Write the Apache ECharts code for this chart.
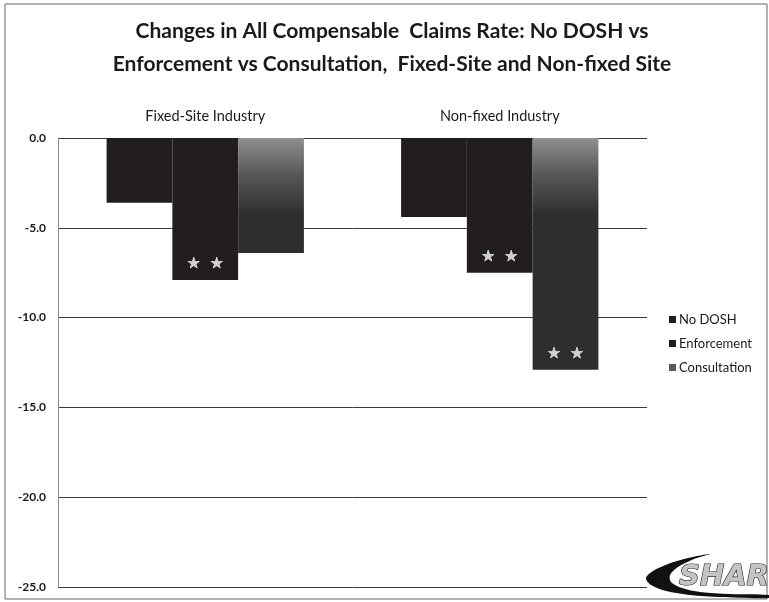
<!DOCTYPE html>
<html>
<head>
<meta charset="utf-8">
<script src="https://cdn.jsdelivr.net/npm/echarts@6/dist/echarts.min.js"></script>
<style>
  html, body { margin: 0; padding: 0; background: #fff; }
  #chart { width: 769px; height: 602px; }
</style>
</head>
<body>
<div id="chart"></div>
<script>
// Change in all compensable claims rate, by site type and intervention group
const categories = ['Fixed-Site Industry', 'Non-fixed Industry'];
const seriesNames = ['No DOSH', 'Enforcement', 'Consultation'];
const noDosh = [-3.6, -4.4];
const enforcement = [-7.9, -7.5];
const consultation = [-6.4, -12.9];
// which bars carry the significance stars
const enforcementStars = [true, true];
const consultationStars = [false, true];
const yTicks = [0, -5, -10, -15, -20, -25];

const FONT = 'Lato, "Open Sans", "Liberation Sans", sans-serif';
const DARK = '#221e1f';

function withStars(values, flags) {
  return values.map((v, i) => flags[i] ? {
    value: v,
    label: {
      show: true,
      position: 'insideBottom',
      distance: 8,
      formatter: '\u2605  \u2605',
      color: '#d0d0d0',
      fontSize: 15,
      fontFamily: '"DejaVu Sans", sans-serif',
      textBorderColor: '#f4f4f4',
      textBorderWidth: 0.6
    }
  } : v);
}

// swoosh of the logo in the lower right corner
const swooshPoints = [
  [710, 554], [688, 558], [668, 564], [653, 571], [646, 578], [651, 585],
  [666, 591], [690, 595], [720, 597], [769, 598],
  [769, 595], [730, 594], [700, 592], [682, 588], [671, 582], [670, 575],
  [678, 567], [694, 559]
];

const chart = echarts.init(document.getElementById('chart'), null, { renderer: 'canvas' });

chart.setOption({
  backgroundColor: '#ffffff',
  animation: false,
  title: {
    text: 'Changes in All Compensable  Claims Rate: No DOSH vs\nEnforcement vs Consultation,  Fixed-Site and Non-fixed Site',
    left: 387,
    textAlign: 'center',
    top: 10,
    textStyle: {
      fontFamily: FONT,
      fontWeight: 'bold',
      fontSize: 21,
      lineHeight: 33,
      color: '#1a1a1a'
    }
  },
  legend: {
    orient: 'vertical',
    left: 664,
    top: 308,
    itemWidth: 7,
    itemHeight: 7,
    itemGap: 11,
    icon: 'rect',
    textStyle: { fontFamily: FONT, fontSize: 13, color: '#1a1a1a', padding: [0, 0, 0, -2] },
    data: [
      { name: 'No DOSH', itemStyle: { color: DARK } },
      { name: 'Enforcement', itemStyle: { color: DARK } },
      { name: 'Consultation', itemStyle: { color: '#5a5a5a' } }
    ]
  },
  grid: { left: 58, right: 122, top: 138, bottom: 15 },
  xAxis: {
    type: 'category',
    position: 'top',
    data: categories,
    axisLine: { show: false },
    axisTick: { show: false },
    axisLabel: {
      margin: 14,
      fontFamily: FONT,
      fontSize: 14.5,
      color: '#1a1a1a'
    }
  },
  yAxis: {
    type: 'value',
    min: -25,
    max: 0,
    interval: 5,
    axisLine: { show: true, lineStyle: { color: '#888', width: 1 } },
    axisTick: { show: false },
    axisLabel: {
      margin: 12,
      fontFamily: FONT,
      fontWeight: 'bold',
      fontSize: 12,
      color: '#1a1a1a',
      formatter: v => yTicks.includes(v) ? v.toFixed(1) : ''
    },
    splitLine: { lineStyle: { color: '#3a3a3a', width: 1 } }
  },
  series: [
    {
      name: seriesNames[0],
      type: 'bar',
      data: noDosh,
      barGap: '0%',
      barCategoryGap: '33%',
      itemStyle: { color: DARK }
    },
    {
      name: seriesNames[1],
      type: 'bar',
      data: withStars(enforcement, enforcementStars),
      itemStyle: { color: DARK }
    },
    {
      name: seriesNames[2],
      type: 'bar',
      data: withStars(consultation, consultationStars),
      itemStyle: {
        color: {
          type: 'linear', global: true,
          x: 0, y: 138, x2: 0, y2: 215,
          colorStops: [
            { offset: 0, color: '#8f8f8f' },
            { offset: 0.45, color: '#5a5a5a' },
            { offset: 1, color: '#302d2e' }
          ]
        }
      }
    }
  ],
  graphic: [
    {
      type: 'rect',
      shape: { x: 5, y: 4, width: 762, height: 595 },
      style: { fill: 'none', stroke: '#666', lineWidth: 1 },
      silent: true
    },
    {
      type: 'polygon',
      shape: { points: swooshPoints, smooth: 0.3 },
      style: { fill: '#111' },
      silent: true
    },
    {
      type: 'text',
      x: 679,
      y: 563,
      style: {
        text: 'SHARP',
        font: 'italic 900 29px "DejaVu Sans", sans-serif',
        fill: '#c4c4c4',
        stroke: '#222',
        lineWidth: 1.2
      },
      silent: true
    }
  ]
});
</script>
</body>
</html>
